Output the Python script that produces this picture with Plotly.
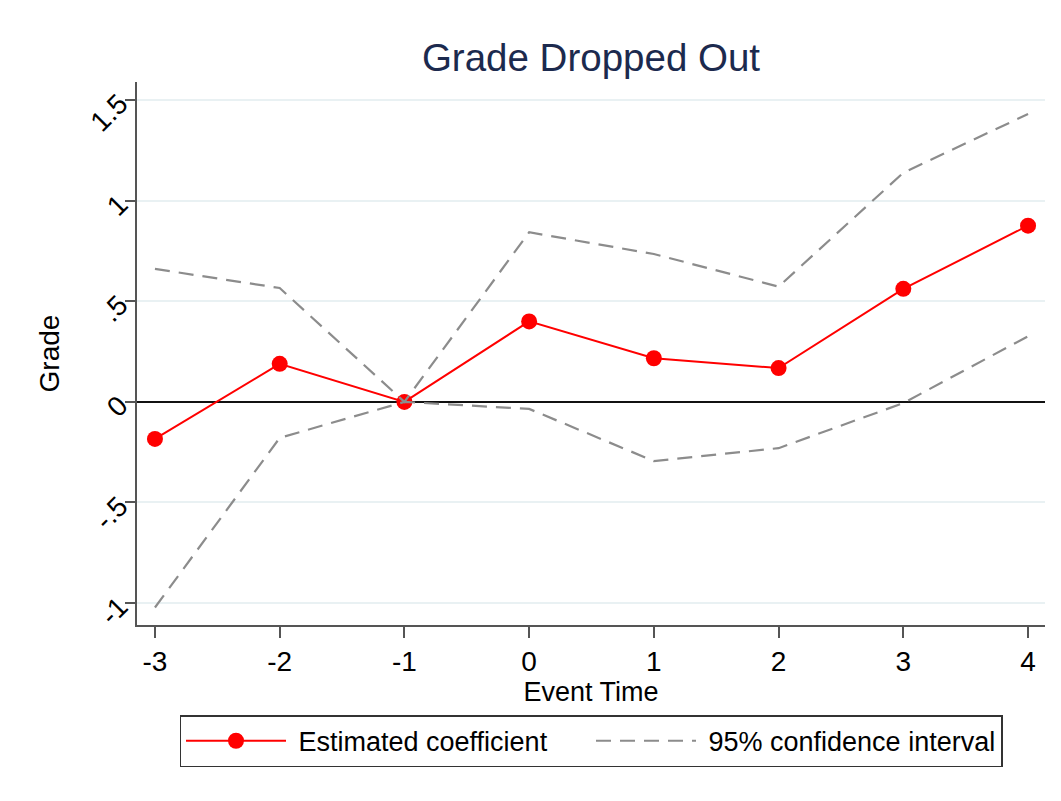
import plotly.graph_objects as go

event_time = [-3, -2, -1, 0, 1, 2, 3, 4]
coef = [-0.184, 0.189, 0.0, 0.400, 0.217, 0.168, 0.562, 0.876]
ci_upper = [0.661, 0.566, 0.0, 0.843, 0.735, 0.573, 1.139, 1.431]
ci_lower = [-1.022, -0.179, 0.0, -0.035, -0.294, -0.230, -0.006, 0.326]
y_tickvals = [-1, -0.5, 0, 0.5, 1, 1.5]
y_ticktext = ["-1", "-.5", "0", ".5", "1", "1.5"]
series_names = ["Estimated coefficient", "95% confidence interval"]

FONT = "Liberation Sans, Arial, sans-serif"
CI_COLOR = "#8c8c8c"

fig = go.Figure()
fig.add_trace(go.Scatter(
    x=event_time, y=coef, mode="lines+markers", name="\u00a0" + series_names[0],
    line=dict(color="#ff0000", width=2),
    marker=dict(color="#ff0000", size=16),
))
fig.add_trace(go.Scatter(
    x=event_time, y=ci_upper, mode="lines", name="\u00a0" + series_names[1],
    line=dict(color=CI_COLOR, width=2.2, dash="15px,9px"),
))
fig.add_trace(go.Scatter(
    x=event_time, y=ci_lower, mode="lines", name=series_names[1],
    line=dict(color=CI_COLOR, width=2.2, dash="15px,9px"), showlegend=False,
))

fig.update_layout(
    width=1061, height=801,
    margin=dict(l=129, r=24, t=74, b=184),
    paper_bgcolor="white", plot_bgcolor="white",
    font=dict(family=FONT, size=27, color="black"),
    title=dict(text="Grade Dropped Out", x=0.5, xref="paper", xanchor="center",
               y=1 - 50 / 801, yref="container", yanchor="middle",
               font=dict(size=38.5, color="#1c2a4e", family=FONT)),
    showlegend=True,
    legend=dict(orientation="h", x=0.5, xanchor="center", y=-0.214, yanchor="middle",
                bordercolor="#333333", borderwidth=1.5, bgcolor="white",
                font=dict(size=27, color="black", family=FONT),
                itemwidth=100, entrywidth=295, entrywidthmode="pixels"),
)
fig.update_xaxes(
    range=[-3.144, 4.136], tickvals=event_time, ticktext=[str(v) for v in event_time],
    showgrid=False, zeroline=False, showline=True, linecolor="#555555", linewidth=1.5,
    ticks="outside", ticklen=11, tickwidth=1.5, tickcolor="#555555",
    tickfont=dict(size=28, family=FONT, color="black"),
    title=dict(text="Event Time", standoff=0, font=dict(size=27, family=FONT, color="black")),
)
fig.update_yaxes(
    range=[-1.109, 1.59], tickvals=y_tickvals, ticktext=y_ticktext, tickangle=-45,
    showgrid=True, gridcolor="#e9f1f3", gridwidth=1.5,
    zeroline=True, zerolinecolor="#111111", zerolinewidth=2,
    showline=True, linecolor="#555555", linewidth=1.5,
    ticks="outside", ticklen=10, tickwidth=1.5, tickcolor="#555555",
    tickfont=dict(size=28, family=FONT, color="black"),
    title=dict(text="Grade", standoff=17, font=dict(size=28, family=FONT, color="black")),
)

fig.write_html("out.html")
